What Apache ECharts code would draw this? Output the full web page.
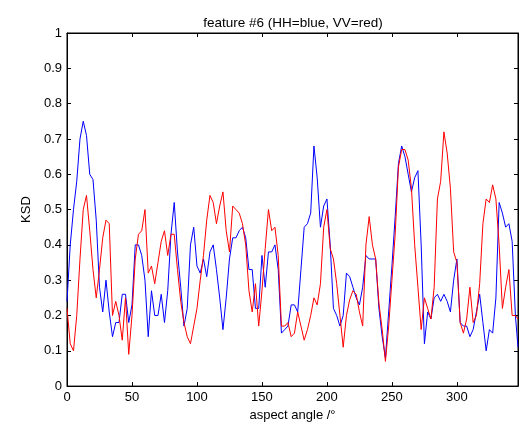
<!DOCTYPE html>
<html><head><meta charset="utf-8">
<script src="https://cdn.jsdelivr.net/npm/echarts@6/dist/echarts.min.js"></script>
<style>html,body{margin:0;padding:0;background:#fff}#c{width:524px;height:427px}</style>
</head><body><div id="c"></div>
<script>
const angles = [0,2.5,5,7.5,10,12.5,15,17.5,20,22.5,25,27.5,30,32.5,35,37.5,40,42.5,45,47.5,
50,52.5,55,57.5,60,62.5,65,67.5,70,72.5,75,77.5,80,82.5,85,87.5,90,92.5,95,97.5,
100,102.5,105,107.5,110,112.5,115,117.5,120,122.5,125,127.5,130,132.5,135,137.5,140,142.5,145,147.5,
150,152.5,155,157.5,160,162.5,165,167.5,170,172.5,175,177.5,180,182.5,185,187.5,190,192.5,195,197.5,
200,202.5,205,207.5,210,212.5,215,217.5,220,222.5,225,227.5,230,232.5,235,237.5,240,242.5,245,247.5,
250,252.5,255,257.5,260,262.5,265,267.5,270,272.5,275,277.5,280,282.5,285,287.5,290,292.5,295,297.5,
300,302.5,305,307.5,310,312.5,315,317.5,320,322.5,325,327.5,330,332.5,335,337.5,340,342.5,345,347];

const hh = [0.24,0.40,0.50,0.58,0.70,0.75,0.71,0.60,0.585,0.47,0.28,0.21,0.30,0.21,0.14,0.18,0.18,0.26,0.26,0.18,
0.23,0.40,0.40,0.37,0.30,0.14,0.27,0.20,0.20,0.26,0.18,0.27,0.43,0.52,0.38,0.28,0.17,0.22,0.40,0.45,
0.34,0.32,0.36,0.31,0.38,0.40,0.33,0.25,0.16,0.25,0.36,0.42,0.42,0.44,0.45,0.42,0.33,0.33,0.22,0.22,
0.37,0.28,0.38,0.38,0.40,0.33,0.15,0.16,0.17,0.23,0.23,0.21,0.33,0.45,0.46,0.49,0.68,0.59,0.45,0.51,
0.53,0.40,0.22,0.20,0.17,0.20,0.32,0.31,0.28,0.25,0.23,0.28,0.37,0.36,0.36,0.36,0.22,0.14,0.08,0.21,
0.34,0.48,0.63,0.68,0.65,0.60,0.55,0.59,0.61,0.40,0.12,0.21,0.19,0.25,0.26,0.24,0.26,0.24,0.21,0.30,
0.36,0.18,0.17,0.17,0.14,0.16,0.21,0.26,0.18,0.10,0.16,0.15,0.25,0.52,0.49,0.45,0.46,0.41,0.20,0.11];

const vv = [0.22,0.12,0.10,0.20,0.36,0.50,0.54,0.44,0.33,0.25,0.33,0.42,0.47,0.46,0.20,0.24,0.20,0.13,0.25,0.09,
0.20,0.36,0.43,0.44,0.50,0.32,0.34,0.29,0.35,0.41,0.44,0.37,0.43,0.43,0.33,0.24,0.18,0.14,0.12,0.17,
0.22,0.30,0.37,0.47,0.54,0.52,0.46,0.51,0.55,0.44,0.38,0.51,0.50,0.49,0.46,0.40,0.27,0.21,0.29,0.17,
0.27,0.39,0.50,0.44,0.45,0.37,0.17,0.17,0.18,0.14,0.15,0.21,0.17,0.13,0.16,0.20,0.25,0.23,0.29,0.45,
0.50,0.39,0.36,0.29,0.20,0.11,0.20,0.245,0.27,0.26,0.21,0.17,0.40,0.48,0.40,0.36,0.235,0.16,0.07,0.17,
0.30,0.43,0.62,0.67,0.67,0.64,0.56,0.40,0.28,0.16,0.25,0.22,0.19,0.28,0.53,0.58,0.72,0.66,0.56,0.38,
0.35,0.18,0.15,0.19,0.28,0.18,0.20,0.29,0.46,0.53,0.52,0.57,0.53,0.40,0.22,0.28,0.33,0.20,0.20,0.19];

const xTicks = [0,50,100,150,200,250,300];
const yTicks = [0,0.1,0.2,0.3,0.4,0.5,0.6,0.7,0.8,0.9,1];

const FONT = 'Liberation Sans';
const chart = echarts.init(document.getElementById('c'), null, {renderer:'canvas'});
const pair = (ys) => angles.map((a,i)=>[a, ys[i]]);
const tick = () => ({inside:true, length:4, lineStyle:{color:'#000', width:1}});
const line = () => ({onZero:false, lineStyle:{color:'#000', width:1}});
chart.setOption({
  animation:false,
  backgroundColor:'#fff',
  title:{text:'feature #6 (HH=blue, VV=red)', left:288, top:11, textAlign:'center',
    textStyle:{fontFamily:FONT, fontSize:13.5, fontWeight:'normal', color:'#000'}},
  grid:{left:67, right:6, top:33, bottom:38, show:true, borderColor:'#000', borderWidth:1, backgroundColor:'#fff'},
  xAxis:[{type:'value', min:0, max:347, interval:50, position:'bottom',
    name:'aspect angle /°', nameLocation:'middle', nameGap:22,
    nameTextStyle:{fontFamily:FONT, fontSize:13, color:'#000'},
    axisLine:line(), axisTick:tick(),
    axisLabel:{fontFamily:FONT, fontSize:13, color:'#000', margin:5, showMaxLabel:false,
      formatter:(v)=> xTicks.includes(v) ? String(v) : ''},
    splitLine:{show:false}},
   {type:'value', min:0, max:347, interval:50, position:'top',
    axisLine:line(), axisTick:tick(), axisLabel:{show:false}, splitLine:{show:false}}],
  yAxis:[{type:'value', min:0, max:1, interval:0.1, position:'left',
    name:'KSD', nameLocation:'middle', nameGap:28,
    nameTextStyle:{fontFamily:FONT, fontSize:13, color:'#000'},
    axisLine:line(), axisTick:tick(),
    axisLabel:{fontFamily:FONT, fontSize:13, color:'#000', margin:5,
      formatter:(v)=>{const r=Math.round(v*10)/10; return yTicks.includes(r)? String(r):'';}},
    splitLine:{show:false}},
   {type:'value', min:0, max:1, interval:0.1, position:'right',
    axisLine:line(), axisTick:tick(), axisLabel:{show:false}, splitLine:{show:false}}],
  series:[
    {name:'HH', type:'line', data:pair(hh), showSymbol:false, symbol:'none',
     lineStyle:{color:'#0000ff', width:1}, itemStyle:{color:'#0000ff'}, z:2},
    {name:'VV', type:'line', data:pair(vv), showSymbol:false, symbol:'none',
     lineStyle:{color:'#ff0000', width:1}, itemStyle:{color:'#ff0000'}, z:3}
  ]
});
</script></body></html>
